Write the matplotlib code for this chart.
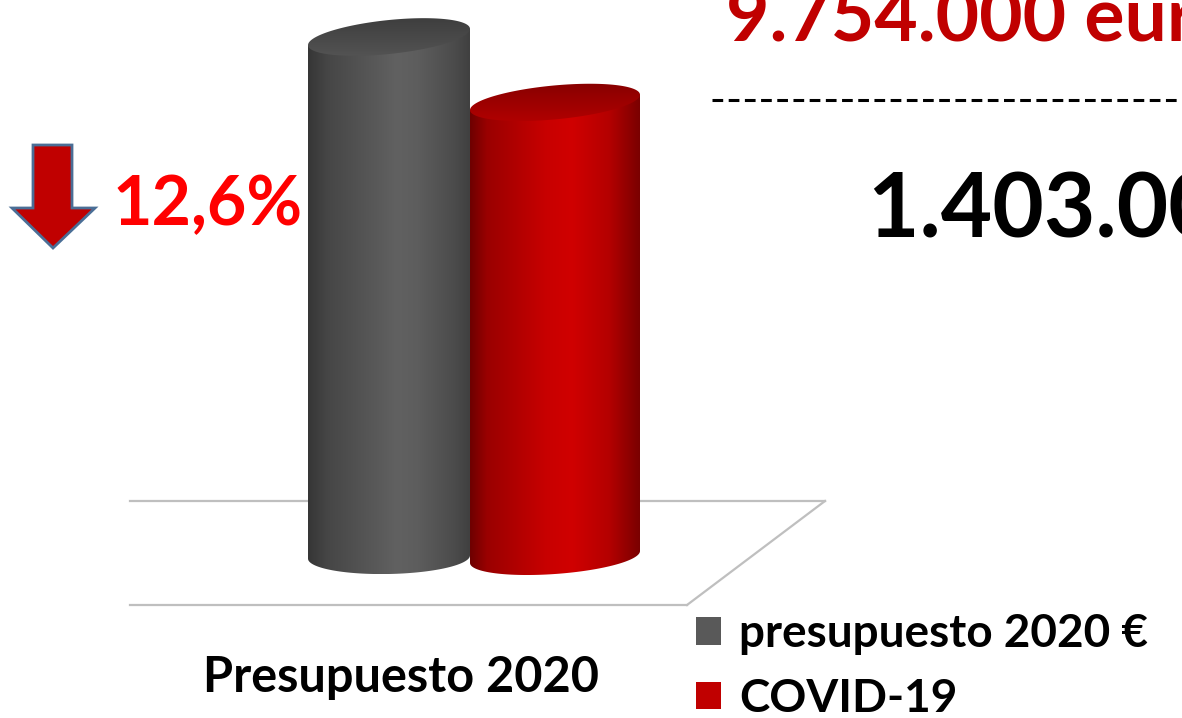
import numpy as np
import matplotlib
matplotlib.use("Agg")
import matplotlib.pyplot as plt
from matplotlib.colors import LinearSegmentedColormap
from matplotlib.patches import Polygon, Patch

categories = ["Presupuesto 2020"]
series = ["presupuesto 2020 €", "COVID-19"]
values = [11157000, 9754000]

W, H = 1182, 718
plt.rcParams['font.family'] = ['Lato', 'DejaVu Sans']


def fmt_num(v):
    return f"{v:,}".replace(",", ".")


fig = plt.figure(figsize=(W / 100, H / 100), dpi=100)

# background axes in pixel units: floor, arrow, texts
bg = fig.add_axes([0, 0, 1, 1])
bg.set_xlim(0, W)
bg.set_ylim(H, 0)
bg.axis('off')

# main axes: x in pixels, y in euros
ax = fig.add_axes([0, 0, 1, 1])
ax.patch.set_alpha(0)
ax.axis('off')
base_px, top_px = 557, 37
epp = max(values) / (base_px - top_px)  # euros per pixel


def shade(pts, cmap, vertical=False, z=2):
    poly = Polygon(pts, closed=True, fc='none', ec='none', transform=ax.transData)
    ax.add_patch(poly)
    xs, ys = pts[:, 0], pts[:, 1]
    grad = np.linspace(0, 1, 256)
    img = grad[:, None] if vertical else grad[None, :]
    im = ax.imshow(img, cmap=cmap, aspect='auto', origin='upper',
                   extent=[xs.min(), xs.max(), ys.min(), ys.max()], zorder=z)
    im.set_clip_path(poly)


def cylinder(xc, a, val, body_cmap, top_cmap, k_top, k_bot, z):
    b = 17 * epp
    t = np.linspace(np.pi, 2 * np.pi, 80)
    bx = xc + a * np.cos(t)
    by = b * np.sin(t) + k_bot * epp * a * np.cos(t)
    body = np.vstack([[[xc - a, val - k_top * epp * a]],
                      np.column_stack([bx, by]),
                      [[xc + a, val + k_top * epp * a]]])
    shade(body, body_cmap, z=z)
    tt = np.linspace(0, 2 * np.pi, 160)
    top = np.column_stack([xc + a * np.cos(tt),
                           val + b * np.sin(tt) + k_top * epp * a * np.cos(tt)])
    shade(top, top_cmap, vertical=True, z=z + 0.5)


gray_body = LinearSegmentedColormap.from_list('gb', [
    (0, '#363636'), (0.12, '#464646'), (0.55, '#616161'),
    (0.68, '#5d5d5d'), (0.9, '#4c4c4c'), (1, '#404040')])
gray_top = LinearSegmentedColormap.from_list('gt', ['#3e3e3e', '#535353'])
red_body = LinearSegmentedColormap.from_list('rb', [
    (0, '#6e0000'), (0.1, '#9a0000'), (0.45, '#c80000'),
    (0.6, '#d00000'), (0.82, '#b40000'), (1, '#7a0000')])
red_top = LinearSegmentedColormap.from_list('rt', ['#880000', '#b00000'])

cylinder(389, 81, values[0], gray_body, gray_top, 0.10, 0.02, 2)
cylinder(555, 85, values[1], red_body, red_top, 0.09, 0.07, 4)

ax.set_xlim(0, W)
ax.set_ylim(-(H - base_px) * epp, base_px * epp)

# floor
fl = '#BFBFBF'
bg.plot([130, 825], [501, 501], color=fl, lw=1.6)
bg.plot([825, 687], [501, 605], color=fl, lw=1.6)
bg.plot([130, 687], [605, 605], color=fl, lw=1.6)

# category label
bg.text(401, 692, categories[0], ha='center', va='baseline',
        fontsize=35, fontweight='bold', color='black')

# legend
handles = [Patch(fc='#595959', label=series[0]), Patch(fc='#C00000', label=series[1])]
ax.legend(handles=handles, loc='upper left', bbox_to_anchor=(673 / W, 1 - 590 / H),
          frameon=False, prop=dict(weight='bold', size=33), handlelength=0.55,
          handleheight=0.55, handletextpad=0.4, labelspacing=0.5, borderpad=0)

# down arrow and percentage
arrow = Polygon([(33, 145), (72, 145), (72, 208), (95, 208), (53, 248),
                 (12, 208), (33, 208)], closed=True, fc='#C00000', ec='#4A6E96', lw=2)
bg.add_patch(arrow)
pct = (values[0] - values[1]) / values[0] * 100
bg.text(113, 225, f"{pct:.1f}".replace('.', ',') + '%', ha='left', va='baseline',
        fontsize=49, fontweight='bold', color='#FF0000')

# totals on the right
bg.text(726, 42, fmt_num(values[1]) + ' euros', ha='left', va='baseline',
        fontsize=54, fontweight='bold', color='#C00000')
bg.plot([712, W + 10], [100, 100], color='black', lw=2.2, ls=(0, (3.5, 1.8)))
bg.text(868, 237, fmt_num(values[0] - values[1]) + ' euros', ha='left', va='baseline',
        fontsize=64, fontweight='bold', color='black')

fig.savefig('out.png', dpi=100)
